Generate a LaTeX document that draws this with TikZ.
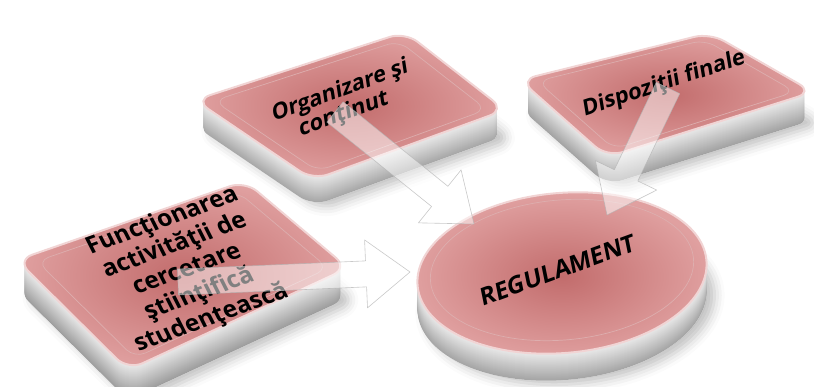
\documentclass[tikz,border=0pt]{standalone}
\usepackage{fontspec}
\setmainfont{Open Sans}
\usetikzlibrary{calc,shadows.blur}

\definecolor{facered}{RGB}{194,108,108}
\definecolor{facerim}{RGB}{224,160,160}

\begin{document}
\begin{tikzpicture}[x=1pt,y=-1pt,
    face/.style={rounded corners=16pt,inner color=facered,outer color=facerim,draw=white!55!facerim,line width=2pt},
    bevel/.style={rounded corners=12pt,draw=white!45!facered,line width=0.7pt},
    side/.style={rounded corners=16pt},
    label/.style={font=\bfseries\fontsize{23}{26}\selectfont,align=center,rotate=20},
    flow/.style={fill=white,fill opacity=0.5,draw=gray!60,draw opacity=0.7,line width=0.6pt,line join=round}]

    \useasboundingbox (0,0) rectangle (814,387);

    % Dispozitii finale
    \fill[side,white,shift={(0,28)},blur shadow={shadow xshift=8pt,shadow yshift=-4pt,shadow blur radius=10pt,shadow opacity=25}]
        (520,80) -- (710,33) -- (813,92) -- (607,157) -- cycle;
    \foreach \d [evaluate=\d as \k using int(8+\d)] in {28,27,...,1}
        \fill[side,black!\k!white,shift={(0,\d)}] (520,80) -- (710,33) -- (813,92) -- (607,157) -- cycle;
    \draw[face] (520,80) -- (710,33) -- (813,92) -- (607,157) -- cycle;
    \draw[bevel,scale around={0.88:(665,90)}] (520,80) -- (710,33) -- (813,92) -- (607,157) -- cycle;

    % Organizare si continut
    \fill[side,white,shift={(0,26)},blur shadow={shadow xshift=8pt,shadow yshift=-4pt,shadow blur radius=10pt,shadow opacity=25}]
        (195,100) -- (405,32) -- (505,110) -- (313,180) -- cycle;
    \foreach \d [evaluate=\d as \k using int(8+\d)] in {26,25,...,1}
        \fill[side,black!\k!white,shift={(0,\d)}] (195,100) -- (405,32) -- (505,110) -- (313,180) -- cycle;
    \draw[face] (195,100) -- (405,32) -- (505,110) -- (313,180) -- cycle;
    \draw[bevel,scale around={0.88:(352,106)}] (195,100) -- (405,32) -- (505,110) -- (313,180) -- cycle;

    % Functionarea activitatii
    \fill[side,white,shift={(0,30)},blur shadow={shadow xshift=8pt,shadow yshift=-4pt,shadow blur radius=10pt,shadow opacity=25}]
        (17,260) -- (245,181) -- (348,268) -- (128,370) -- cycle;
    \foreach \d [evaluate=\d as \k using int(8+\d)] in {30,29,...,1}
        \fill[side,black!\k!white,shift={(0,\d)}] (17,260) -- (245,181) -- (348,268) -- (128,370) -- cycle;
    \draw[face] (17,260) -- (245,181) -- (348,268) -- (128,370) -- cycle;
    \draw[bevel,scale around={0.88:(184,270)}] (17,260) -- (245,181) -- (348,268) -- (128,370) -- cycle;

    % REGULAMENT
    \fill[white,shift={(562,300)},rotate=5,blur shadow={shadow xshift=8pt,shadow yshift=-4pt,shadow blur radius=10pt,shadow opacity=25}]
        (0,0) ellipse [x radius=145,y radius=80];
    \foreach \d [evaluate=\d as \k using int(8+\d)] in {27,26,...,1}
        \fill[black!\k!white,shift={(562,273+\d)},rotate=5] (0,0) ellipse [x radius=145,y radius=80];
    \draw[face,shift={(562,273)},rotate=5] (0,0) ellipse [x radius=145,y radius=80];
    \draw[bevel,shift={(562,270)},rotate=5] (0,0) ellipse [x radius=132,y radius=70];

    % texte
    \node[label,xslant=-0.12,font=\bfseries\fontsize{24}{27}\selectfont] (fun) at (187,270) {Funcţionarea\\activităţii de\\cercetare\\ştiinţifică\\studenţească};
    \node[label,xslant=0.2,font=\bfseries\fontsize{22}{23}\selectfont] (org) at (342,103) {Organizare şi\\conţinut};
    \node[label,rotate=-2,xslant=0.15,font=\bfseries\fontsize{22}{24}\selectfont] (disp) at (664,84) {Dispoziţii finale};
    \node[label,xslant=0.15,font=\bfseries\fontsize{24}{28}\selectfont] (reg) at (558,270) {REGULAMENT};

    % sageti
    \coordinate (fun-out) at (178,282);
    \coordinate (reg-w) at (410,272);
    \coordinate (org-out) at (335,112);
    \coordinate (reg-nw) at (474,224);
    \coordinate (disp-out) at (668,88);
    \coordinate (reg-n) at (607,215);
    \foreach \from/\to in {fun-out/reg-w,org-out/reg-nw,disp-out/reg-n}{
        \coordinate (hb) at ($(\to)!44pt!(\from)$);
        \filldraw[flow] ($(\from)!13pt!-90:(\to)$) -- ($(hb)!13pt!90:(\from)$) -- ($(hb)!34pt!90:(\from)$)
            -- (\to) -- ($(hb)!34pt!-90:(\from)$) -- ($(hb)!13pt!-90:(\from)$) -- ($(\from)!13pt!90:(\to)$) -- cycle;
    }
\end{tikzpicture}
\end{document}
